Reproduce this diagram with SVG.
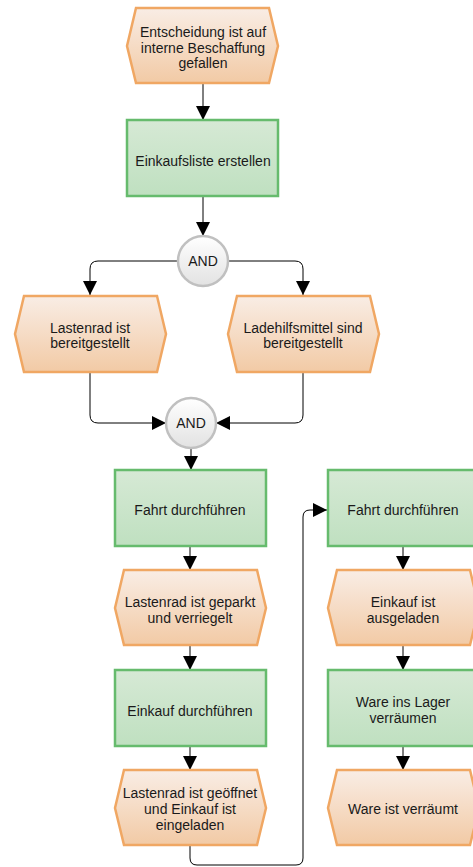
<svg xmlns="http://www.w3.org/2000/svg" width="473" height="867" viewBox="0 0 473 867">
  <defs>
    <linearGradient id="evtGrad" x1="0" y1="0" x2="0" y2="1">
      <stop offset="0" stop-color="#f9ede5"/>
      <stop offset="1" stop-color="#f2caa5"/>
    </linearGradient>
    <linearGradient id="fnGrad" x1="0" y1="0" x2="0" y2="1">
      <stop offset="0" stop-color="#d6e9d5"/>
      <stop offset="1" stop-color="#bfe0c0"/>
    </linearGradient>
    <linearGradient id="gateGrad" x1="0" y1="0" x2="0" y2="1">
      <stop offset="0" stop-color="#ffffff"/>
      <stop offset="1" stop-color="#e2e2e2"/>
    </linearGradient>
    <marker id="arrow" markerUnits="userSpaceOnUse" markerWidth="14" markerHeight="14" viewBox="0 0 12 12" refX="12" refY="6" orient="auto">
      <path d="M0,0 L12,6 L0,12 Z" fill="#000"/>
    </marker>
  </defs>
  <style>
    .evt { fill: url(#evtGrad); stroke: #f0a763; stroke-width: 2.5; }
    .fn { fill: url(#fnGrad); stroke: #66bb6d; stroke-width: 2.5; }
    .gate { fill: url(#gateGrad); stroke: #c0c0c0; stroke-width: 2.5; }
    .lbl { font-family: "Liberation Sans", Arial, sans-serif; font-size: 14px; fill: #1a1a1a; text-anchor: middle; }
    .edge { fill: none; stroke: #000; stroke-width: 1; marker-end: url(#arrow); }
  </style>

  <!-- connectors -->
  <g id="connectors">
    <path class="edge" d="M203,84 V120"/>
    <path class="edge" d="M203,196 V236"/>
    <path class="edge" d="M178,261 H98 Q90,261 90,269 V295"/>
    <path class="edge" d="M228,261 H295 Q303,261 303,269 V295"/>
    <path class="edge" d="M90,372 V415 Q90,423 98,423 H166"/>
    <path class="edge" d="M303,372 V415 Q303,423 295,423 H216"/>
    <path class="edge" d="M191,448 V470"/>
    <path class="edge" d="M190,546 V570"/>
    <path class="edge" d="M190,645 V670"/>
    <path class="edge" d="M190,746 V770"/>
    <path class="edge" d="M190,845 V858 Q190,865 197,865 H296 Q303,865 303,858 V517 Q303,510 310,510 H327"/>
    <path class="edge" d="M403,546 V570"/>
    <path class="edge" d="M403,645 V670"/>
    <path class="edge" d="M403,746 V770"/>
  </g>

  <!-- start event -->
  <g id="evt-entscheidung">
    <polygon class="evt" points="136,8 269,8 278,46 269,83 136,83 127,46"/>
    <text class="lbl" x="203" y="37">Entscheidung ist auf</text>
    <text class="lbl" x="203" y="53">interne Beschaffung</text>
    <text class="lbl" x="203" y="68">gefallen</text>
  </g>

  <g id="fn-einkaufsliste">
    <rect class="fn" x="127" y="120" width="151" height="76"/>
    <text class="lbl" x="203" y="166">Einkaufsliste erstellen</text>
  </g>

  <g id="gate-and-split">
    <circle class="gate" cx="203" cy="261" r="25"/>
    <text class="lbl" x="203" y="266">AND</text>
  </g>

  <g id="evt-lastenrad-bereit">
    <polygon class="evt" points="24,296 157,296 166,334 157,372 24,372 15,334"/>
    <text class="lbl" x="90" y="333">Lastenrad ist</text>
    <text class="lbl" x="90" y="348">bereitgestellt</text>
  </g>

  <g id="evt-ladehilfsmittel">
    <polygon class="evt" points="237,296 370,296 379,334 370,372 237,372 228,334"/>
    <text class="lbl" x="303" y="333">Ladehilfsmittel sind</text>
    <text class="lbl" x="303" y="348">bereitgestellt</text>
  </g>

  <g id="gate-and-join">
    <circle class="gate" cx="191" cy="423" r="25"/>
    <text class="lbl" x="191" y="428">AND</text>
  </g>

  <!-- left column -->
  <g id="fn-fahrt-1">
    <rect class="fn" x="115" y="470" width="151" height="76"/>
    <text class="lbl" x="190" y="515">Fahrt durchführen</text>
  </g>

  <g id="evt-geparkt">
    <polygon class="evt" points="124,570 257,570 266,608 257,645 124,645 115,608"/>
    <text class="lbl" x="190" y="607">Lastenrad ist geparkt</text>
    <text class="lbl" x="190" y="623">und verriegelt</text>
  </g>

  <g id="fn-einkauf">
    <rect class="fn" x="115" y="670" width="151" height="76"/>
    <text class="lbl" x="190" y="716">Einkauf durchführen</text>
  </g>

  <g id="evt-eingeladen">
    <polygon class="evt" points="124,770 257,770 266,808 257,845 124,845 115,808"/>
    <text class="lbl" x="190" y="798">Lastenrad ist geöffnet</text>
    <text class="lbl" x="190" y="814">und Einkauf ist</text>
    <text class="lbl" x="190" y="830">eingeladen</text>
  </g>

  <!-- right column -->
  <g id="fn-fahrt-2">
    <rect class="fn" x="328" y="470" width="151" height="76"/>
    <text class="lbl" x="403" y="515">Fahrt durchführen</text>
  </g>

  <g id="evt-ausgeladen">
    <polygon class="evt" points="337,570 470,570 479,608 470,645 337,645 328,608"/>
    <text class="lbl" x="403" y="607">Einkauf ist</text>
    <text class="lbl" x="403" y="623">ausgeladen</text>
  </g>

  <g id="fn-verraeumen">
    <rect class="fn" x="328" y="670" width="151" height="76"/>
    <text class="lbl" x="403" y="707">Ware ins Lager</text>
    <text class="lbl" x="403" y="723">verräumen</text>
  </g>

  <g id="evt-verraeumt">
    <polygon class="evt" points="337,770 470,770 479,808 470,845 337,845 328,808"/>
    <text class="lbl" x="403" y="814">Ware ist verräumt</text>
  </g>
</svg>
